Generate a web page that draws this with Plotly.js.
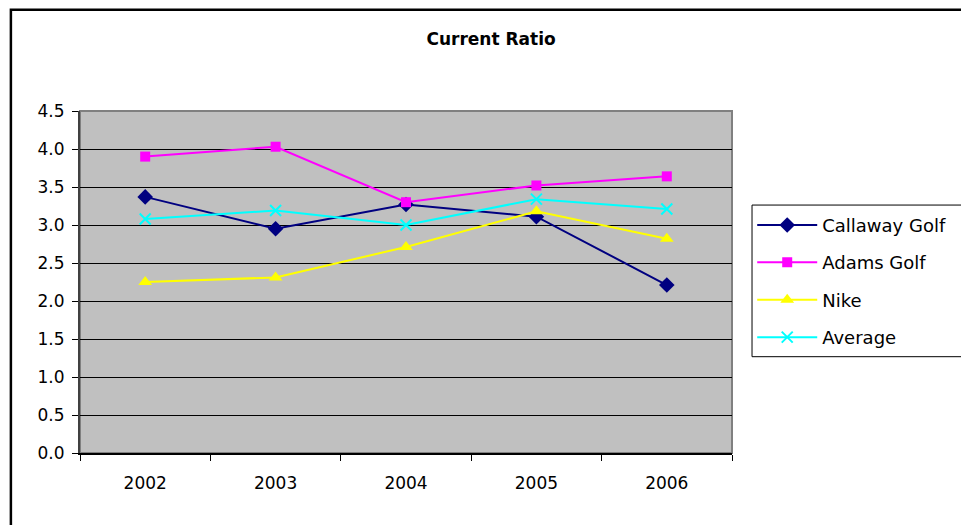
<!DOCTYPE html>
<html>
<head>
<meta charset="utf-8">
<script src="https://cdn.plot.ly/plotly-3.0.1.min.js"></script>
<style>
  html, body { margin: 0; padding: 0; background: #fff; }
  #chart { width: 961px; height: 525px; }
</style>
</head>
<body>
<div id="chart"></div>
<script>
// Current ratio by year for each company and the peer average
const years = ['2002', '2003', '2004', '2005', '2006'];
const callawayGolf = [3.37, 2.95, 3.27, 3.11, 2.21];
const adamsGolf    = [3.90, 4.03, 3.30, 3.52, 3.64];
const nike         = [2.25, 2.31, 2.71, 3.18, 2.82];
const average      = [3.08, 3.19, 3.00, 3.34, 3.21];
const yTicks = [0, 0.5, 1.0, 1.5, 2.0, 2.5, 3.0, 3.5, 4.0, 4.5];

const series = [
  { name: 'Callaway Golf', y: callawayGolf, color: '#000080', symbol: 'diamond', size: 12, mline: 0 },
  { name: 'Adams Golf',    y: adamsGolf,    color: '#FF00FF', symbol: 'square', size: 10, mline: 0 },
  { name: 'Nike',          y: nike,         color: '#FFFF00', symbol: 'triangle-up', size: 12, mline: 0 },
  { name: 'Average',       y: average,      color: '#00FFFF', symbol: 'x-thin', size: 11, mline: 2 }
];

const traces = series.map((s, i) => ({
  type: 'scatter',
  mode: 'lines+markers',
  name: s.name,
  legendgroup: 'g' + i,
  x: years,
  y: s.y,
  line: { color: s.color, width: 2 },
  marker: { symbol: s.symbol, size: s.size, color: s.color,
            line: { color: s.color, width: s.mline } }
}));

const font = "'DejaVu Sans', Verdana, sans-serif";

const layout = {
  width: 961,
  height: 525,
  margin: { l: 80, r: 229, t: 111, b: 72, pad: 0, autoexpand: false },
  paper_bgcolor: '#FFFFFF',
  plot_bgcolor: '#C0C0C0',
  font: { family: font, size: 17, color: '#000' },
  title: {
    text: '<b>Current Ratio</b>',
    font: { family: font, size: 17, color: '#000' },
    x: 0.511, xanchor: 'center',
    y: 0.925, yanchor: 'middle'
  },
  showlegend: true,
  legend: {
    x: 1.031, xanchor: 'left',
    y: 0.72, yanchor: 'top',
    bgcolor: 'rgba(0,0,0,0)',
    borderwidth: 0,
    font: { family: font, size: 18, color: '#000' },
    itemwidth: 60,
    tracegroupgap: 11
  },
  xaxis: {
    type: 'category',
    range: [-0.5, 4.5],
    tickson: 'boundaries',
    ticks: 'outside',
    ticklen: 6,
    tickcolor: '#000',
    ticklabelstandoff: 14,
    showline: true,
    linecolor: '#000',
    linewidth: 2,
    showgrid: false,
    zeroline: false,
    tickfont: { family: font, size: 17, color: '#000' },
    fixedrange: true
  },
  yaxis: {
    range: [0, 4.5],
    tickvals: yTicks,
    ticktext: yTicks.map(v => v.toFixed(1)),
    ticks: 'outside',
    ticklen: 6,
    tickcolor: '#000',
    ticklabelstandoff: 4,
    showline: true,
    linecolor: '#404040',
    linewidth: 2,
    showgrid: true,
    gridcolor: '#000',
    gridwidth: 1,
    zeroline: false,
    tickfont: { family: font, size: 17, color: '#000' },
    fixedrange: true
  },
  shapes: [
    // gray frame on the plotting area
    { type: 'rect', xref: 'paper', yref: 'paper', x0: 0, x1: 1, y0: 0, y1: 1,
      line: { color: '#808080', width: 2 }, layer: 'below' },
    // legend box, running off the right edge
    { type: 'rect', xref: 'paper', yref: 'paper',
      x0: 1.0307, x1: 1.4, y0: 0.2816, y1: 0.725,
      line: { color: '#000', width: 1 }, fillcolor: 'rgba(0,0,0,0)' },
    // black border round the whole chart
    { type: 'rect', xref: 'paper', yref: 'paper',
      x0: -0.106, x1: 1.36, y0: -0.23, y1: 1.296,
      line: { color: '#000', width: 2.5 } }
  ]
};

Plotly.newPlot('chart', traces, layout, { displayModeBar: false, staticPlot: true });
</script>
</body>
</html>
